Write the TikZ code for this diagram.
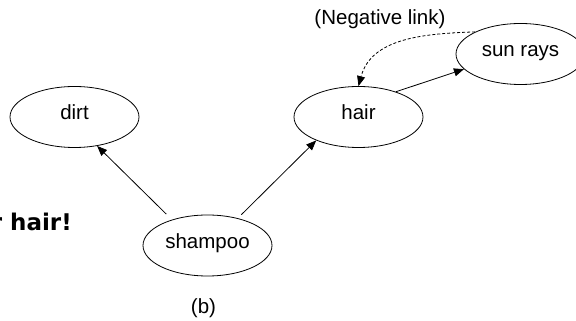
\documentclass[tikz,border=0pt]{standalone}
\usepackage{fontspec}
\setmainfont{Liberation Sans}
\newfontfamily\boldfam{DejaVu Sans}
\usetikzlibrary{shapes.geometric,arrows.meta}
\begin{document}
\begin{tikzpicture}[x=1pt,y=1pt,
  oval/.style={draw, ellipse, line width=0.8pt, minimum width=129pt, minimum height=61pt,
    inner sep=0pt, font=\fontsize{20.5}{24}\selectfont, text height=12pt, text depth=6pt},
  link/.style={line width=0.8pt, -{Triangle[length=10pt,width=8pt]}},
  neglink/.style={link, dash pattern=on 3pt off 2pt},
  lbl/.style={font=\fontsize{20.5}{24}\selectfont, inner sep=0pt}]
\useasboundingbox (0,0) rectangle (576,321);
\clip (0,0) rectangle (576,321);
\node[oval] (dirt) at (74.5,204) {dirt};
\node[oval] (hair) at (358.5,204) {hair};
\node[oval] (sun) at (520.5,267) {sun rays};
\node[oval] (shampoo) at (207.5,75.5) {shampoo};
\node[lbl, anchor=base] (neg) at (380,296) {(Negative link)};
\node[lbl, anchor=base] (b) at (203.5,7) {(b)};
\node[inner sep=0pt, anchor=base east, font=\boldfam\bfseries\fontsize{23}{27}\selectfont] (slogan) at (72,90) {r hair!};
\draw[link, shorten <=8pt] (shampoo.144) -- (dirt.-52);
\draw[link, shorten <=5pt] (shampoo.42) -- (hair.209);
\draw[link] (hair.34) -- (sun.195);
\draw[neglink] (sun.154) to[out=182,in=75] (hair.north);
\end{tikzpicture}
\end{document}
